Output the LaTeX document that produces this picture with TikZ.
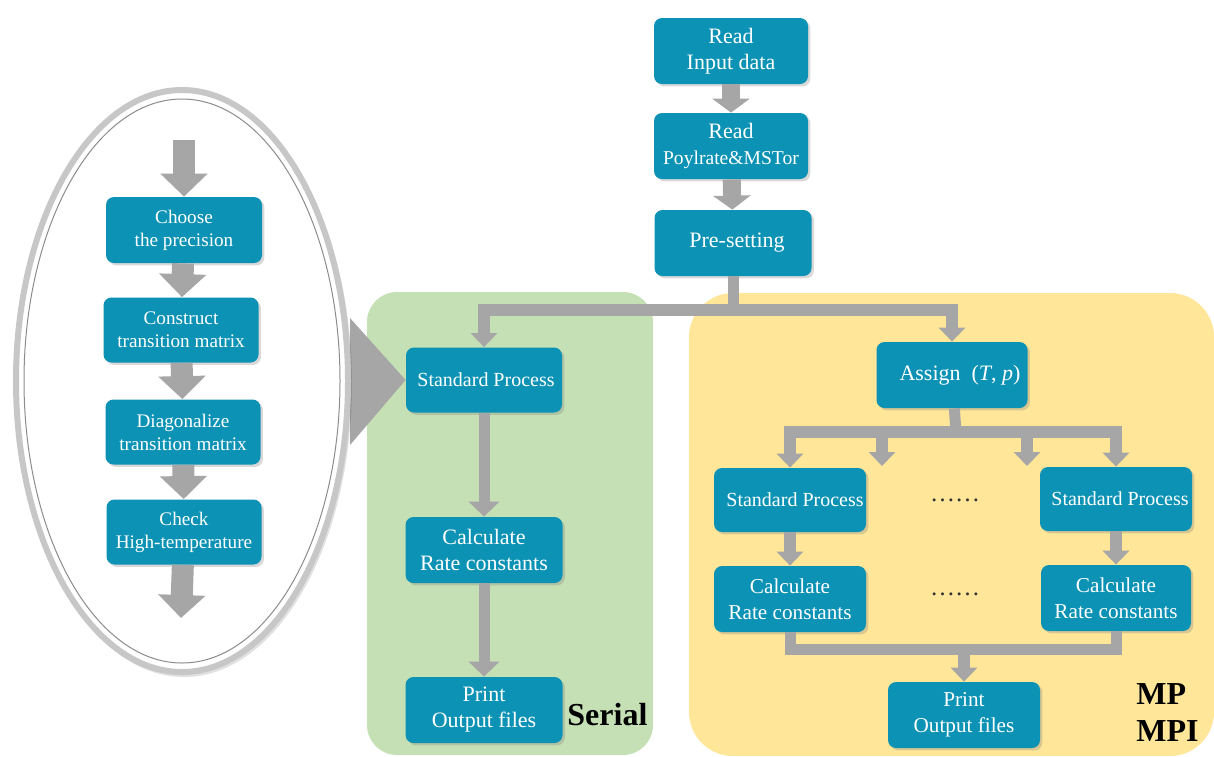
\documentclass[tikz,border=0pt]{standalone}
\usepackage{fontspec}
\setmainfont{Liberation Serif}
\usetikzlibrary{arrows.meta,shadows}
\definecolor{teal1}{RGB}{12,146,180}
\definecolor{arrgray}{RGB}{166,166,166}
\definecolor{sgreen}{RGB}{197,224,180}
\definecolor{pyellow}{RGB}{255,230,153}
\begin{document}
\begin{tikzpicture}[x=0.5pt,y=-0.5pt,
  box/.style={draw=none, fill=teal1, rounded corners=4pt, text=white, align=center,
    inner sep=0pt, minimum width=77pt, minimum height=33pt,
    drop shadow={shadow xshift=1.2pt, shadow yshift=-1.2pt, opacity=0.3},
    font=\fontsize{11}{13}\selectfont},
  obox/.style={box, font=\fontsize{9.6}{11.5}\selectfont},
  sbox/.style={box, font=\fontsize{10}{12}\selectfont},
  bigarr/.style={draw=arrgray, line width=9pt, -{Triangle[width=18.5pt,length=7pt]}},
  ovarr/.style={draw=arrgray, line width=11pt, -{Triangle[width=23pt,length=11.5pt]}},
  sarr/.style={draw=arrgray, line width=5.5pt, -{Triangle[width=15pt,length=7.5pt]}},
  farr/.style={draw=arrgray, line width=6pt, line join=miter, -{Triangle[width=13pt,length=7pt]}},
  bar/.style={draw=arrgray, line width=5.5pt, line join=miter},
  lbl/.style={font=\bfseries\fontsize{16}{18.5}\selectfont, text=black, inner sep=0pt},
  dotsty/.style={font=\fontsize{12.5}{14}\selectfont, text=black!80}
]
\useasboundingbox (0,0) rectangle (1214,756);
% background regions
\fill[sgreen, rounded corners=15pt] (367,292) rectangle (653,755);
\fill[pyellow, rounded corners=22pt] (689,293) rectangle (1214,756);

% zoom triangle
\node[box, minimum width=78pt, minimum height=32.5pt, font=\fontsize{10}{12}\selectfont] (sps) at (484,380) {\hspace*{2pt}Standard Process};
\fill[arrgray] (350,318) -- (sps.west) -- (350,445) -- cycle;

% oval
\fill[black, opacity=0.12] (184,384) ellipse [x radius=168, y radius=293];
\draw[line width=3pt, draw=black!22, fill=white] (182,381) ellipse [x radius=166, y radius=291];
\draw[line width=0.5pt, draw=black!45] (182,381) ellipse [x radius=158, y radius=282];

% main flow
\node[box] (read1) at (731,51) {Read\\Input data};
\node[box] (read2) at (731,146) {Read\\{\fontsize{9.8}{12}\selectfont Poylrate\&MSTor}};
\node[box, minimum width=78.5pt] (preset) at (733,243) {\hspace*{4pt}Pre-setting};
\node[box, minimum width=78.5pt] (calcs) at (484,550) {Calculate\\Rate constants};
\node[box, minimum width=78.5pt] (prints) at (484,710) {Print\\Output files};
\node[box, minimum width=75.5pt] (assign) at (952,375) {\hspace*{8pt}Assign\ \ (\textit{T}, \textit{p})};
\node[sbox, minimum width=76pt, minimum height=32pt] (spl) at (790,500) {\hspace*{5pt}Standard Process};
\node[sbox, minimum width=76pt, minimum height=32pt] (spr) at (1116,499) {\hspace*{4pt}Standard Process};
\node[box, minimum width=76pt, font=\fontsize{10.6}{12.8}\selectfont] (calcl) at (790,599) {Calculate\\Rate constants};
\node[box, minimum width=75pt, font=\fontsize{10.6}{12.8}\selectfont] (calcr) at (1116,598) {Calculate\\Rate constants};
\node[box, minimum width=76pt, font=\fontsize{10.6}{12.8}\selectfont] (printp) at (964,715) {Print\\Output files};

% oval boxes
\node[obox, minimum width=78pt] (choose) at (184,230) {Choose\\the precision};
\node[obox, minimum width=77.5pt, minimum height=32.5pt] (construct) at (181,330) {Construct\\transition matrix};
\node[obox, minimum width=77.5pt, minimum height=32.5pt] (diag) at (183,432) {Diagonalize\\transition matrix};
\node[obox, minimum width=77.5pt, minimum height=32.5pt] (check) at (184,532) {Check\\High-temperature};

% dots and labels
\node[dotsty] (dots1) at (955,500) {……};
\node[dotsty] (dots2) at (955,594) {……};
\node[lbl, anchor=base west] (serial) at (567,725) {Serial};
\node[lbl, anchor=north west, align=left] (mpi) at (1136,683) {MP\\MPI};

% arrows top
\draw[bigarr] (read1) -- (read2);
\draw[bigarr] (read2) -- (preset);
\coordinate (split) at (733,310);
\draw[bar] (preset) -- (split);
\draw[farr] (split) -| (sps.north);
\draw[farr] (split) -| (assign.north);

% serial
\draw[sarr] (sps) -- (calcs);
\draw[sarr] (calcs) -- (prints);

% parallel
\coordinate (split2) at (956,432);
\coordinate (m1) at (882,466);
\coordinate (m2) at (1027,466);
\draw[bar] (assign) -- (split2);
\draw[farr] (split2) -| (spl.north);
\draw[farr] (split2) -| (spr.north);
\draw[farr] (split2) -| (m1);
\draw[farr] (split2) -| (m2);
\draw[farr] (spl) -- (calcl);
\draw[farr] (spr) -- (calcr);
\coordinate (merge) at (964,649);
\draw[bar] (calcl.south) |- (merge) -| (calcr.south);
\draw[farr] (merge) -- (printp);

% oval arrows
\coordinate (otop) at (184,140);
\coordinate (obot) at (181,618);
\draw[ovarr] (otop) -- (choose);
\draw[ovarr] (choose) -- (construct);
\draw[ovarr] (construct) -- (diag);
\draw[ovarr] (diag) -- (check);
\draw[ovarr] (check) -- (obot);
\end{tikzpicture}
\end{document}
